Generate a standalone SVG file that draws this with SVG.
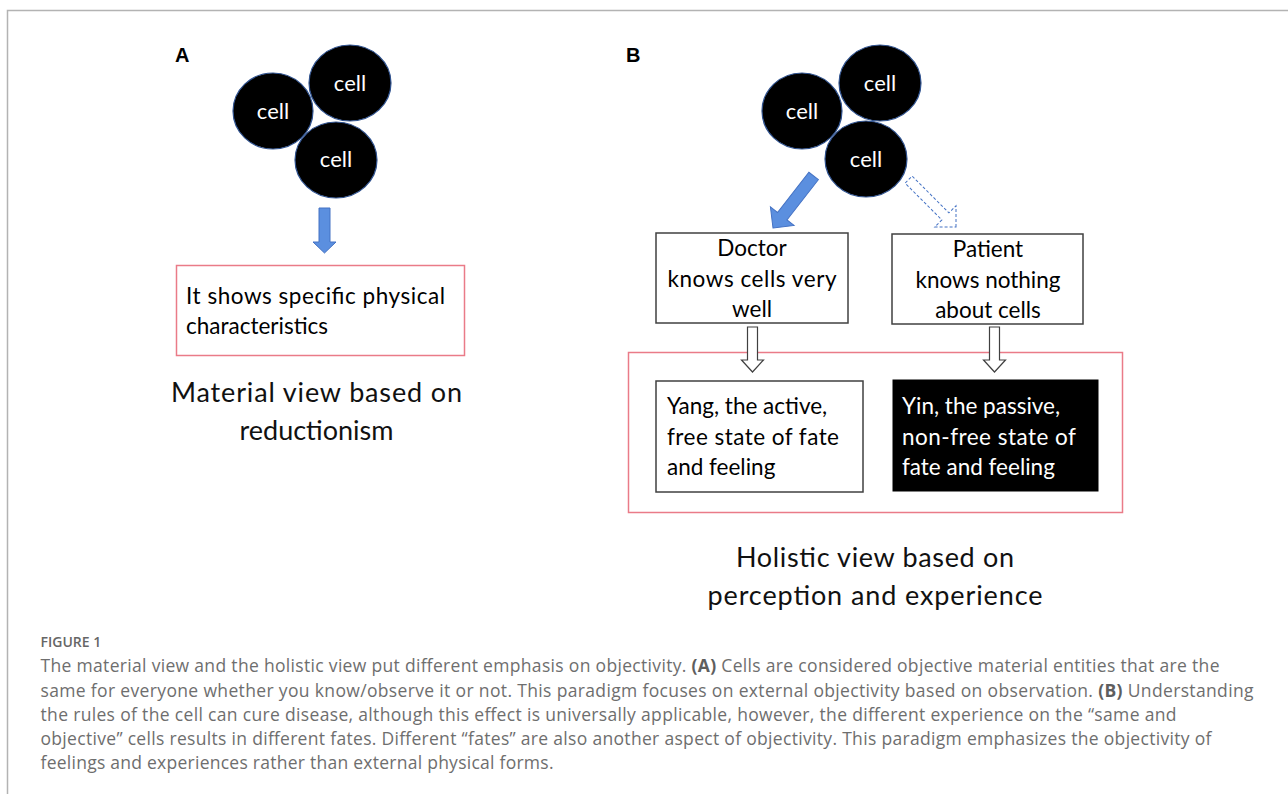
<svg xmlns="http://www.w3.org/2000/svg" width="1288" height="794" viewBox="0 0 1288 794">
<defs>
<style>
.frame{stroke:#b3b3b3;stroke-width:1.5;fill:none}
.cell{fill:#000;stroke:#2f528f;stroke-width:1.2}
.celltxt{font-family:Lato,"Open Sans",sans-serif;font-size:22px;fill:#fff;text-anchor:middle}
.lbl{font-family:"Liberation Sans",Arial,sans-serif;font-weight:bold;font-size:20px;fill:#000}
.redbox{fill:none;stroke:#ea7b88;stroke-width:1.5}
.box{fill:#fff;stroke:#404040;stroke-width:1.5}
.blackbox{fill:#000;stroke:#000;stroke-width:1}
.t{font-family:Lato,"Open Sans",sans-serif;font-size:22.5px;fill:#000}
.tc{font-family:Lato,"Open Sans",sans-serif;font-size:22.5px;fill:#000;text-anchor:middle}
.tw{font-family:Lato,"Open Sans",sans-serif;font-size:22.5px;fill:#fff}
.title{font-family:Lato,"Open Sans",sans-serif;font-size:27px;fill:#111;text-anchor:middle}
.bluearrow{fill:#5b8fdf;stroke:#4472c4;stroke-width:1}
.dasharrow{fill:#fff;stroke:#4472c4;stroke-width:1;stroke-dasharray:3 2}
.hollow{fill:#fff;stroke:#404040;stroke-width:1.2}
.fig{font-family:"Open Sans",Lato,sans-serif;font-weight:600;font-size:14px;fill:#666}
.cap{font-family:"Open Sans",Lato,sans-serif;font-size:17.5px;fill:#6e6e6e}
.capb{font-weight:bold;fill:#5e5e5e}
</style>
</defs>
<rect x="0" y="0" width="1288" height="794" fill="#fff"/>
<path class="frame" d="M7.5,794 V10.5 H1288"/>

<g id="label-A"><text class="lbl" x="175" y="62">A</text></g>
<g id="label-B"><text class="lbl" x="626" y="62">B</text></g>

<g id="cellsA">
<ellipse class="cell" cx="273" cy="111" rx="40" ry="38"/>
<ellipse class="cell" cx="350" cy="83" rx="41" ry="38"/>
<ellipse class="cell" cx="336" cy="160" rx="41" ry="38"/>
<text class="celltxt" x="273" y="119">cell</text>
<text class="celltxt" x="350" y="91">cell</text>
<text class="celltxt" x="336" y="167">cell</text>
</g>

<g id="boxA">
<rect class="redbox" x="176.5" y="265.5" width="288" height="90"/>
<text class="t" x="186" y="304" textLength="259">It shows specific physical</text>
<text class="t" x="186" y="334">characteristics</text>
</g>

<g id="titleA">
<text class="title" x="316.5" y="402" textLength="291">Material view based on</text>
<text class="title" x="316.5" y="440">reductionism</text>
</g>

<g id="cellsB">
<ellipse class="cell" cx="802" cy="111" rx="40" ry="38"/>
<ellipse class="cell" cx="880" cy="83" rx="41" ry="38"/>
<ellipse class="cell" cx="866" cy="159" rx="41" ry="38"/>
<text class="celltxt" x="802" y="119">cell</text>
<text class="celltxt" x="880" y="91">cell</text>
<text class="celltxt" x="866" y="167">cell</text>
</g>

<g id="doctor">
<rect class="box" x="656" y="233" width="192" height="90"/>
<text class="tc" x="752" y="256">Doctor</text>
<text class="tc" x="752" y="287" textLength="169">knows cells very</text>
<text class="tc" x="752" y="317">well</text>
</g>

<g id="patient">
<rect class="box" x="892" y="234" width="191" height="90"/>
<text class="tc" x="988" y="257">Patient</text>
<text class="tc" x="988" y="288">knows nothing</text>
<text class="tc" x="988" y="318">about cells</text>
</g>

<g id="outcomeB">
<rect class="redbox" x="628.5" y="352.5" width="494" height="160"/>
</g>

<g id="yang">
<rect class="box" x="656" y="381" width="207" height="111"/>
<text class="t" x="667" y="414">Yang, the active,</text>
<text class="t" x="667" y="445" textLength="172">free state of fate</text>
<text class="t" x="667" y="475">and feeling</text>
</g>

<g id="yin">
<rect class="blackbox" x="893" y="380" width="205" height="111"/>
<text class="tw" x="902" y="414">Yin, the passive,</text>
<text class="tw" x="902" y="445" textLength="174">non-free state of</text>
<text class="tw" x="902" y="475">fate and feeling</text>
</g>

<g id="titleB">
<text class="title" x="875" y="567" textLength="278">Holistic view based on</text>
<text class="title" x="875" y="605" textLength="335">perception and experience</text>
</g>

<g id="connectors">
<polygon class="bluearrow" points="319,208 330,208 330,242 336,242 324.5,253 313,242 319,242"/>
<polygon class="bluearrow" points="0,0 -15,-15 -15,-6 -66,-6 -66,6 -15,6 -15,15" transform="translate(773,228) rotate(128)"/>
<polygon class="dasharrow" points="0,0 -15,-15 -15,-5 -67,-5 -67,5 -15,5 -15,15" transform="translate(956,227) rotate(45)"/>
<polygon class="hollow" points="747.5,327 757.5,327 757.5,360 763.5,360 752.5,372 741.5,360 747.5,360"/>
<polygon class="hollow" points="989.5,327 999.5,327 999.5,360 1005.5,360 994.5,372 983.5,360 989.5,360"/>
</g>

<g id="caption">
<text class="fig" x="40.5" y="647">FIGURE 1</text>
<text class="cap" x="40.5" y="672" textLength="1179">The material view and the holistic view put different emphasis on objectivity. <tspan class="capb">(A)</tspan> Cells are considered objective material entities that are the</text>
<text class="cap" x="40.5" y="697" textLength="1213">same for everyone whether you know/observe it or not. This paradigm focuses on external objectivity based on observation. <tspan class="capb">(B)</tspan> Understanding</text>
<text class="cap" x="40.5" y="721" textLength="1136">the rules of the cell can cure disease, although this effect is universally applicable, however, the different experience on the “same and</text>
<text class="cap" x="40.5" y="745" textLength="1171">objective” cells results in different fates. Different “fates” are also another aspect of objectivity. This paradigm emphasizes the objectivity of</text>
<text class="cap" x="40.5" y="769" textLength="513">feelings and experiences rather than external physical forms.</text>
</g>
</svg>
